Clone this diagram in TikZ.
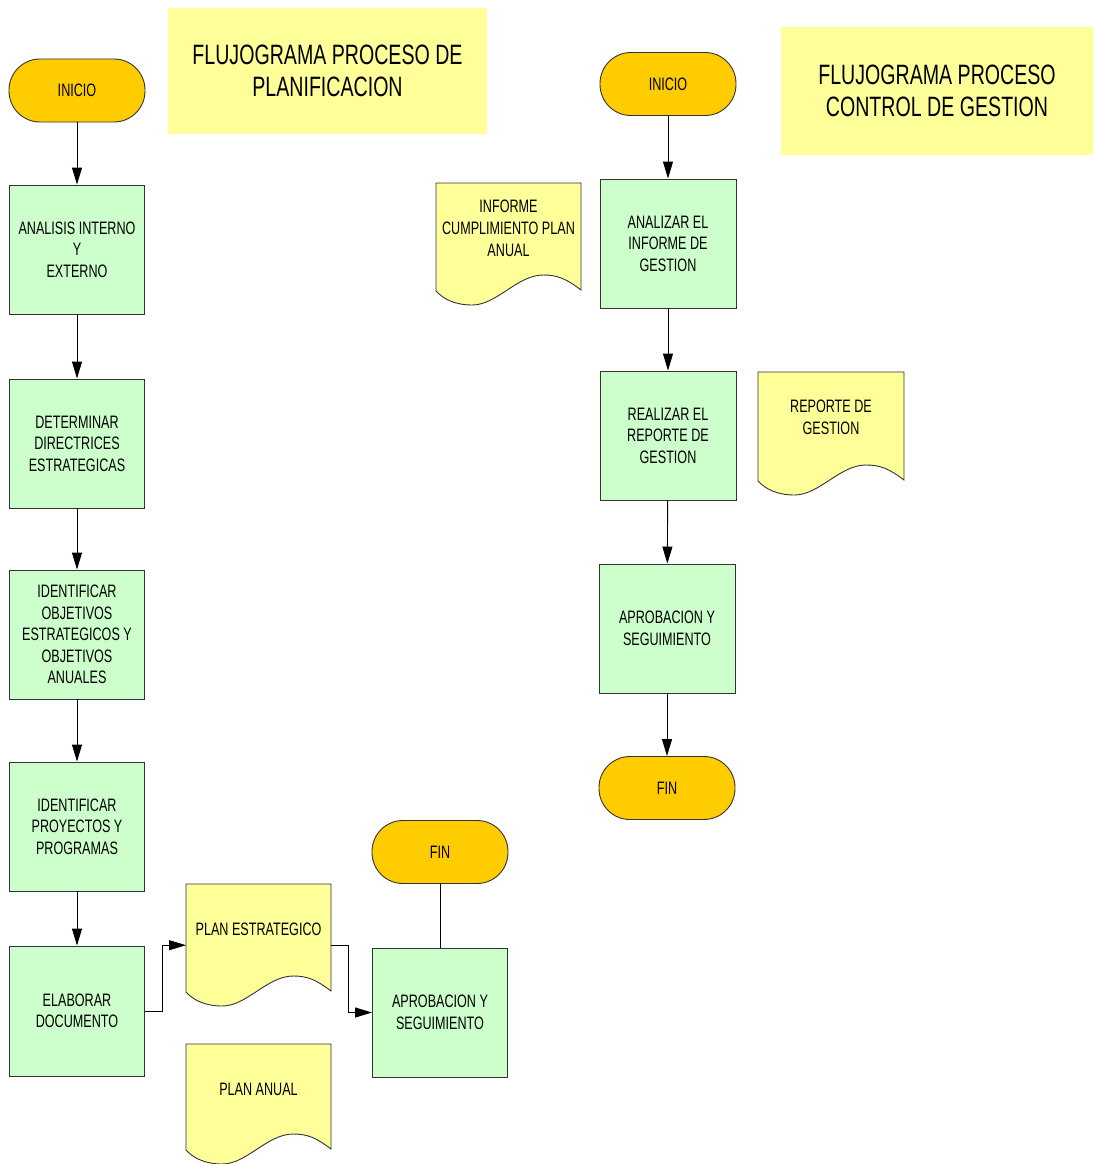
\documentclass[tikz,border=0pt]{standalone}
\usepackage{fontspec}
\setmainfont{Liberation Sans}[FakeStretch=0.7]
\usetikzlibrary{arrows.meta,calc}
\definecolor{gold}{HTML}{FFCC00}
\definecolor{paleg}{HTML}{CCFFCC}
\definecolor{paley}{HTML}{FFFF99}
\tikzset{
  bline/.style={draw=black!80,line width=0.9pt},
  term/.style={bline,fill=gold,rectangle,rounded corners=31pt,minimum width=136pt,minimum height=63pt,inner sep=0pt,align=center,font=\fontsize{18}{21}\selectfont},
  proc/.style={bline,fill=paleg,rectangle,minimum width=135pt,minimum height=129pt,inner sep=0pt,align=center,font=\fontsize{18}{21.5}\selectfont},
  docbox/.style={rectangle,draw=none,inner sep=0pt},
  docline/.style={bline,fill=paley},
  boxtext/.style={inner sep=0pt,align=center,font=\fontsize{18}{22}\selectfont},
  titlebox/.style={fill=paley,draw=none,rectangle,inner sep=0pt,align=center,font=\fontsize{28}{32}\selectfont},
  arr/.style={draw=black,line width=0.9pt,-{Triangle[length=17pt,width=10pt]}},
  plain/.style={draw=black,line width=0.9pt}
}
% #1 name, #2 left, #3 top, #4 width, #5 height, #6 text
\newcommand\docnode[6]{%
  \pgfmathsetmacro\dL{#2}\pgfmathsetmacro\dT{#3}%
  \pgfmathsetmacro\dR{#2+#4}\pgfmathsetmacro\dB{#3+#5}%
  \pgfmathsetmacro\dBa{#3+#5-15}\pgfmathsetmacro\dBb{#3+#5-26}%
  \pgfmathsetmacro\dBc{#3+#5-30}\pgfmathsetmacro\dBd{#3+#5-6}\pgfmathsetmacro\dBe{#3+#5-14}%
  \pgfmathsetmacro\xa{#2+#4-0.1*#4}\pgfmathsetmacro\xb{#2+0.84*#4}%
  \pgfmathsetmacro\xc{#2+0.74*#4}\pgfmathsetmacro\xd{#2+0.56*#4}%
  \pgfmathsetmacro\xe{#2+0.42*#4}\pgfmathsetmacro\xf{#2+0.25*#4}%
  \pgfmathsetmacro\xg{#2+0.13*#4}\pgfmathsetmacro\xh{#2+0.05*#4}%
  \pgfmathsetmacro\xm{#2+0.5*#4}\pgfmathsetmacro\yt{#3+45}%
  \node[docbox,minimum width=#4pt,minimum height=#5pt,anchor=north west] (#1) at (\dL,\dT) {};
  \draw[docline] (\dL,\dT) -- (\dR,\dT) -- (\dR,\dBa)
    .. controls (\xa,\dBb) and (\xb,\dBc) .. (\xc,\dBc)
    .. controls (\xd,\dBc) and (\xe,\dB) .. (\xf,\dB)
    .. controls (\xg,\dB) and (\xh,\dBd) .. (\dL,\dBe) -- cycle;
  \node[boxtext] (#1-t) at (\xm,\yt) {#6};
}
\begin{document}
\begin{tikzpicture}[x=1pt,y=-1pt]
\fill[white] (0,0) rectangle (1093,1164);
\useasboundingbox (0,0) rectangle (1093,1164);

% titles
\node[titlebox,minimum width=319pt,minimum height=126pt] (t1) at (327.5,71) {FLUJOGRAMA PROCESO DE\\PLANIFICACION};
\node[titlebox,minimum width=312pt,minimum height=128pt] (t2) at (937,91) {FLUJOGRAMA PROCESO\\CONTROL DE GESTION};

% left process
\node[term] (ini1) at (77,90.5) {INICIO};
\node[proc] (ana) at (77,249.5) {ANALISIS INTERNO\\Y\\EXTERNO};
\node[proc] (det) at (77,443.5) {DETERMINAR\\DIRECTRICES\\ESTRATEGICAS};
\node[proc] (obj) at (77,634.5) {IDENTIFICAR\\OBJETIVOS\\ESTRATEGICOS Y\\OBJETIVOS\\ANUALES};
\node[proc] (proy) at (77,826.5) {IDENTIFICAR\\PROYECTOS Y\\PROGRAMAS};
\node[proc,minimum height=130pt] (elab) at (77,1011) {ELABORAR\\DOCUMENTO};
\node[term] (fin1) at (440,852) {FIN};
\node[proc] (apl) at (440,1012.5) {APROBACION Y\\SEGUIMIENTO};
\docnode{pe}{186}{884}{145}{122}{PLAN ESTRATEGICO}
\docnode{pa}{186}{1044}{145}{120}{PLAN ANUAL}

\draw[arr] (ini1) -- (ana);
\draw[arr] (ana) -- (det);
\draw[arr] (det) -- (obj);
\draw[arr] (obj) -- (proy);
\draw[arr] (proy) -- (elab);
\draw[arr] (elab.east) -- ++(17,0) |- (pe.west);
\draw[arr] (pe.east) -- ++(17,0) |- (apl.west);
\draw[plain] (fin1) -- (apl);

% right process
\node[term] (ini2) at (668,84) {INICIO};
\node[proc,minimum width=136pt] (anz) at (668,243.5) {ANALIZAR EL\\INFORME DE\\GESTION};
\node[proc,minimum width=136pt] (rea) at (668,435.5) {REALIZAR EL\\REPORTE DE\\GESTION};
\node[proc,minimum width=136pt] (apr) at (667,628.5) {APROBACION Y\\SEGUIMIENTO};
\node[term] (fin2) at (667,788) {FIN};
\docnode{inf}{436}{183}{145}{122}{INFORME\\CUMPLIMIENTO PLAN\\ANUAL}
\docnode{rep}{758}{372}{146}{123}{REPORTE DE\\GESTION}

\draw[arr] (ini2) -- (anz);
\draw[arr] (anz) -- (rea);
\draw[arr] (rea) -- (apr);
\draw[arr] (apr) -- (fin2);
\end{tikzpicture}
\end{document}
